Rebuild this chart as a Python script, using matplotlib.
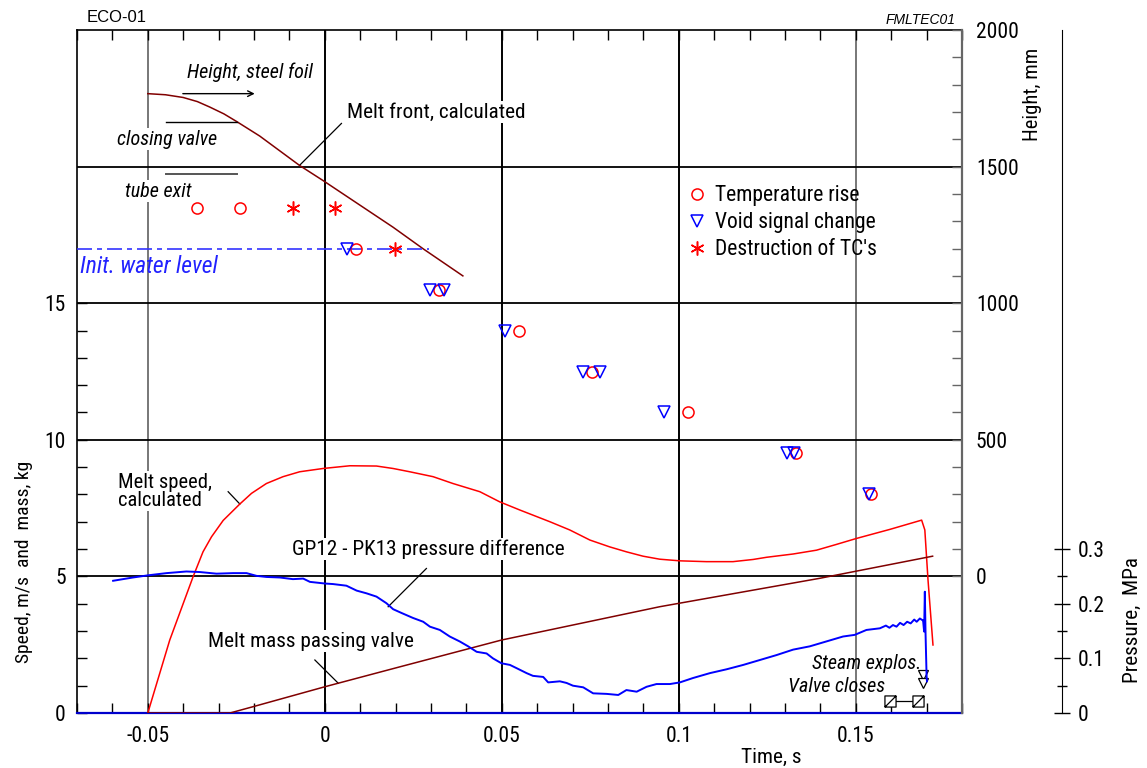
import matplotlib
matplotlib.use('Agg')
import matplotlib.pyplot as plt
from matplotlib import font_manager as fm
from matplotlib.ticker import FixedLocator, FixedFormatter, MultipleLocator
from matplotlib.path import Path


def first_available(families):
    for fam in families:
        try:
            fm.findfont(fm.FontProperties(family=fam), fallback_to_default=False)
            return fam
        except ValueError:
            continue
    return 'DejaVu Sans'


# narrow sans face for the whole figure, with a base size that suits its width
NARROW_SIZES = {'Roboto Condensed': 15.3, 'Liberation Sans Narrow': 15.3,
                'Open Sans Condensed': 14.5, 'DejaVu Sans Condensed': 13,
                'Liberation Sans': 13.5}
FAMILY = first_available(list(NARROW_SIZES))
FS = NARROW_SIZES.get(FAMILY, 13)
plt.rcParams['font.family'] = [FAMILY, 'DejaVu Sans']

# ---------------- data ----------------
time_ticks = [-0.05, 0.0, 0.05, 0.10, 0.15]
time_labels = ['-0.05', '0', '0.05', '0.1', '0.15']
speed_ticks = [0, 5, 10, 15]
speed_grid = [5, 10, 15, 20]
height_ticks = [0, 500, 1000, 1500, 2000]
pressure_ticks = [0.0, 0.1, 0.2, 0.3]
pressure_labels = ['0', '0.1', '0.2', '0.3']

# melt speed, calculated (m/s)
melt_speed_t = [-0.0500, -0.0438, -0.0372, -0.0344, -0.0320, -0.0287, -0.0240, -0.0207,
                -0.0165, -0.0118, -0.0071, -0.0005, 0.0071, 0.0146, 0.0193, 0.0240,
                0.0306, 0.0362, 0.0438, 0.0494, 0.0551, 0.0636, 0.0692, 0.0749, 0.0805,
                0.0852, 0.0899, 0.0946, 0.1003, 0.1078, 0.1153, 0.1210, 0.1248, 0.1323,
                0.1389, 0.1445, 0.1502, 0.1596, 0.1686, 0.1695, 0.1704, 0.1718]
melt_speed = [0.00, 2.67, 4.99, 5.90, 6.45, 7.05, 7.65, 8.04,
              8.40, 8.65, 8.83, 8.95, 9.05, 9.04, 8.95, 8.83,
              8.65, 8.40, 8.10, 7.73, 7.43, 7.00, 6.70, 6.33, 6.08,
              5.90, 5.74, 5.63, 5.57, 5.54, 5.54, 5.62, 5.70, 5.82,
              5.96, 6.17, 6.39, 6.72, 7.06, 6.70, 4.87, 2.49]

# melt mass passing valve (kg)
melt_mass_t = [-0.0500, -0.0268, -0.0203, 0.0000, 0.0212, 0.0499, 0.0946, 0.1398, 0.1662, 0.1717]
melt_mass = [0.00, 0.00, 0.23, 0.96, 1.69, 2.67, 3.89, 4.93, 5.60, 5.74]

# melt front, calculated (mm)
melt_front_t = [-0.0500, -0.0450, -0.0400, -0.0360, -0.0325, -0.0285, -0.0249, -0.0184,
                -0.0071, -0.0005, 0.0193, 0.0278, 0.0390]
melt_front_h = [1767, 1763, 1753, 1738, 1718, 1693, 1665, 1612,
                1504, 1449, 1278, 1199, 1100]

# GP12 - PK13 pressure difference (MPa)
press_t = [-0.0598, -0.0542, -0.0499, -0.0447, -0.0391, -0.0353, -0.0306, -0.0259, -0.0221,
           -0.0193, -0.0165, -0.0127, -0.0090, -0.0061, -0.0042, 0.0000, 0.0023, 0.0061,
           0.0090, 0.0118, 0.0146, 0.0174, 0.0193, 0.0217, 0.0249, 0.0278, 0.0297, 0.0325,
           0.0353, 0.0381, 0.0405, 0.0429, 0.0457, 0.0475, 0.0499, 0.0523, 0.0542, 0.0570,
           0.0588, 0.0617, 0.0631, 0.0664, 0.0683, 0.0701, 0.0730, 0.0758, 0.0796, 0.0829,
           0.0852, 0.0881, 0.0909, 0.0937, 0.0975, 0.1003, 0.1040, 0.1088, 0.1135, 0.1182,
           0.1229, 0.1276, 0.1323, 0.1370, 0.1417, 0.1464, 0.1497, 0.1530, 0.1568, 0.1585,
           0.1595, 0.1605, 0.1615, 0.1625, 0.1635, 0.1645, 0.1655, 0.1665, 0.1672, 0.1681,
           0.1688, 0.1690, 0.1693, 0.1695, 0.1697, 0.1700, 0.1701]
press_mpa = [0.242, 0.248, 0.252, 0.256, 0.259, 0.258, 0.255, 0.256, 0.256,
             0.251, 0.249, 0.248, 0.245, 0.246, 0.240, 0.237, 0.236, 0.233,
             0.224, 0.219, 0.213, 0.201, 0.190, 0.183, 0.174, 0.167, 0.158, 0.152,
             0.140, 0.131, 0.122, 0.112, 0.109, 0.100, 0.091, 0.088, 0.082, 0.073,
             0.068, 0.066, 0.056, 0.058, 0.055, 0.050, 0.047, 0.036, 0.035, 0.033,
             0.042, 0.039, 0.048, 0.053, 0.053, 0.056, 0.064, 0.073, 0.080, 0.088,
             0.097, 0.106, 0.116, 0.122, 0.131, 0.140, 0.143, 0.152, 0.155, 0.160,
             0.156, 0.161, 0.158, 0.165, 0.161, 0.167, 0.164, 0.171, 0.167, 0.173,
             0.170, 0.170, 0.149, 0.222, 0.146, 0.067, 0.058]

# thermocouple / void probe events (mm)
temp_rise_t = [-0.0362, -0.0240, 0.0088, 0.0323, 0.0549, 0.0756, 0.1027, 0.1331, 0.1544]
temp_rise_h = [1350, 1350, 1200, 1050, 900, 750, 600, 450, 300]
void_t = [0.0063, 0.0297, 0.0337, 0.0508, 0.0728, 0.0777, 0.0958, 0.1306, 0.1325, 0.1538]
void_h = [1200, 1050, 1050, 900, 750, 750, 600, 450, 450, 300]
tc_destr_t = [-0.0091, 0.0028, 0.0198]
tc_destr_h = [1350, 1350, 1200]

# reference heights (mm)
steel_foil_h = 1767
closing_valve_h = 1665
tube_exit_h = 1473
water_level_h = 1200

# valve closing interval and steam explosion (s)
valve_close_t = [0.1596, 0.1676]
explosion_t = [0.1690, 0.1690]

# ---------------- colours ----------------
RED = '#FF0000'
BROWN = '#800000'
BLUE = '#0000FF'
GRAY = '#777777'
FS_TICK = FS + 0.2
FS_IT = FS - 0.8

fig = plt.figure(figsize=(11.47, 7.68), dpi=100)
ax = fig.add_axes([0.06713, 0.07161, 0.77158, 0.88932])
ax.set_xlim(-0.07, 0.18)
ax.set_ylim(0, 25)

# height axis shares the right spine; 0 mm sits at speed 5
ax2 = ax.twinx()
ax2.set_ylim(-500, 2000)
# pressure axis on a detached spine
ax3 = ax.twinx()
ax3.set_ylim(0, 1.25)
ax3.spines['right'].set_position(('axes', 1.113))
for s in ('top', 'bottom', 'left'):
    ax3.spines[s].set_visible(False)
for a in (ax2, ax3):
    a.patch.set_visible(False)

# spines
ax.spines['bottom'].set_color('#0000CC')
ax.spines['bottom'].set_linewidth(1.6)
ax.spines['left'].set_linewidth(1.2)
ax.spines['top'].set_linewidth(1.2)
ax2.spines['right'].set_color('#666666')
ax2.spines['right'].set_linewidth(1.6)
ax.spines['right'].set_visible(False)
for s in ('top', 'bottom', 'left'):
    ax2.spines[s].set_visible(False)

# x ticks
ax.xaxis.set_major_locator(FixedLocator(time_ticks))
ax.xaxis.set_major_formatter(FixedFormatter(time_labels))
ax.xaxis.set_minor_locator(MultipleLocator(0.01))
ax.tick_params(axis='x', which='both', direction='in', top=True, bottom=True,
               length=7, width=1, labelsize=FS_TICK, pad=9)

# left ticks
ax.yaxis.set_major_locator(FixedLocator(speed_ticks))
ax.yaxis.set_major_formatter(FixedFormatter([str(v) for v in speed_ticks]))
ax.yaxis.set_minor_locator(FixedLocator([v for v in range(0, 16) if v % 5]))
ax.tick_params(axis='y', which='both', direction='in', left=True, right=False,
               length=7, width=1, labelsize=FS_TICK, pad=8)

# height ticks
ax2.yaxis.set_major_locator(FixedLocator(height_ticks))
ax2.yaxis.set_major_formatter(FixedFormatter([str(v) for v in height_ticks]))
ax2.yaxis.set_minor_locator(FixedLocator([v for v in range(0, 2001, 100) if v % 500]))
ax2.tick_params(axis='y', which='both', direction='in', length=7, width=1,
                color='#666666', labelsize=FS_TICK, pad=10)

# pressure ticks
ax3.yaxis.set_major_locator(FixedLocator(pressure_ticks))
ax3.yaxis.set_major_formatter(FixedFormatter(pressure_labels))
ax3.yaxis.set_minor_locator(FixedLocator([0.05, 0.15, 0.25]))
ax3.tick_params(axis='y', which='major', direction='inout', length=12, width=1,
                labelsize=FS_TICK, pad=5)
ax3.tick_params(axis='y', which='minor', direction='inout', length=7, width=1)

# grid
for t in time_ticks:
    col = GRAY if t in (time_ticks[0], time_ticks[-1]) else 'black'
    ax.axvline(t, color=col, lw=1.4, zorder=1)
for v in speed_grid:
    ax.axhline(v, color='black', lw=1.3, zorder=1)

# curves on speed axis
ax.plot(melt_speed_t, melt_speed, color=RED, lw=1.1, zorder=4)
ax.plot(melt_mass_t, melt_mass, color=BROWN, lw=1.1, zorder=4)

# pressure
ax3.plot(press_t, press_mpa, color=BLUE, lw=1.4, zorder=4)

# height curves / markers
ax2.plot(melt_front_t, melt_front_h, color=BROWN, lw=1.1)
ax2.plot([-0.07, 0.0295], [water_level_h] * 2, color='#3333FF', lw=1.2,
         linestyle=(0, (9, 3, 3, 3)))
ax2.plot(temp_rise_t, temp_rise_h, 'o', ms=8, mfc='none', mec=RED, mew=1.1,
         label='Temperature rise')
ax2.plot(void_t, void_h, 'v', ms=8, mfc='none', mec=BLUE, mew=1.1,
         label='Void signal change')
ax2.plot(tc_destr_t, tc_destr_h, marker=(6, 2, 0), ls='none', ms=10, mec=RED, mew=1.1,
         label="Destruction of TC's")
ax2.legend(loc='upper left', bbox_to_anchor=(0.688, 0.773), frameon=False,
           fontsize=FS + 0.2, handlelength=1.0, handletextpad=0.35, labelspacing=0.28,
           borderaxespad=0, borderpad=0)

# level markers
ax2.annotate('', xy=(-0.0198, steel_foil_h), xytext=(-0.0401, steel_foil_h),
             arrowprops=dict(arrowstyle='->', lw=1, color='black',
                             shrinkA=0, shrinkB=0, mutation_scale=10))
ax2.plot([-0.0449, -0.0249], [closing_valve_h] * 2, color='black', lw=1)
ax2.plot([-0.0449, -0.0249], [tube_exit_h] * 2, color='#555555', lw=1.4)

box = dict(facecolor='white', edgecolor='none', pad=1)
ax2.text(-0.0390, 1845, 'Height, steel foil', style='italic', fontsize=FS_IT,
         va='center', ha='left')
ax2.text(-0.0588, 1600, 'closing valve', style='italic', fontsize=FS_IT,
         va='center', ha='left', bbox=box)
ax2.text(-0.0565, 1410, 'tube exit', style='italic', fontsize=FS_IT,
         va='center', ha='left', bbox=box)
ax2.text(-0.0692, 1136, 'Init. water level', style='italic', fontsize=FS + 1.7,
         va='center', ha='left', color='#2222FF')

# labelled curves with leader lines
ax.text(0.0062, 22.0, 'Melt front, calculated', fontsize=FS, va='center', ha='left',
        bbox=box, zorder=2)
ax.plot([0.0047, -0.0071], [21.58, 20.05], color='black', lw=0.9, zorder=3)

ax.text(-0.0585, 8.12, 'Melt speed,\ncalculated', fontsize=FS - 0.5, va='center',
        ha='left', linespacing=0.95, bbox=box, zorder=2)
ax.plot([-0.0273, -0.0240], [8.10, 7.65], color='black', lw=0.9, zorder=3)

ax.text(-0.0093, 6.0, 'GP12 - PK13 pressure difference', fontsize=FS, va='center',
        ha='left', bbox=box, zorder=2)
ax.plot([0.0287, 0.0179], [5.29, 3.89], color='black', lw=0.9, zorder=5)

ax.text(-0.0330, 2.63, 'Melt mass passing valve', fontsize=FS, va='center', ha='left',
        bbox=box, zorder=2)
ax.plot([-0.0028, 0.0038], [1.94, 1.09], color='black', lw=0.9, zorder=3)

# steam explosion / valve closure
ax.text(0.1686, 1.83, 'Steam explos.', style='italic', fontsize=FS_IT, va='center',
        ha='right')
ax.text(0.1582, 0.96, 'Valve closes', style='italic', fontsize=FS_IT, va='center',
        ha='right')
ax.plot(explosion_t, [1.39, 1.08], 'v', ms=7, mfc='white', mec='black', mew=0.9,
        zorder=5)
slash_sq = Path([(-1, -1), (1, -1), (1, 1), (-1, 1), (-1, -1), (-1, -1), (1, 1)],
                [Path.MOVETO, Path.LINETO, Path.LINETO, Path.LINETO, Path.CLOSEPOLY,
                 Path.MOVETO, Path.LINETO])
ax.plot(valve_close_t, [0.44, 0.44], color='black', lw=0.9, marker=slash_sq, ms=8,
        mfc='white', mec='black', mew=0.9, zorder=5)

# header / axis titles
fig.text(87 / 1147, 1 - 17 / 768, 'ECO-01', fontsize=12,
         family=['Liberation Sans', 'DejaVu Sans'], va='center', ha='left')
fig.text(956 / 1147, 1 - 20 / 768, 'FMLTEC01', fontsize=10, style='italic',
         family=['Liberation Sans', 'DejaVu Sans'], va='center', ha='right')
fig.text(771 / 1147, 1 - 757 / 768, 'Time, s', fontsize=FS, va='center', ha='center')
fig.text(24 / 1147, 1 - 562 / 768, 'Speed, m/s  and  mass, kg', fontsize=FS - 1.3,
         rotation=90, va='center', ha='center')
fig.text(1033 / 1147, 1 - 94 / 768, 'Height, mm', fontsize=FS - 0.5, rotation=90,
         va='center', ha='center')
fig.text(1132 / 1147, 1 - 620 / 768, 'Pressure,  MPa', fontsize=FS, rotation=90,
         va='center', ha='center')

fig.savefig('out.png', dpi=100)
